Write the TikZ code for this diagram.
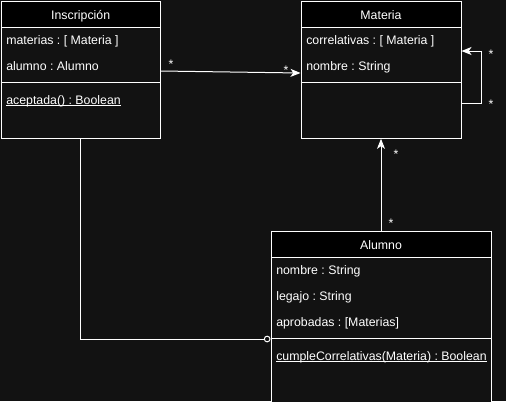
\documentclass[tikz,border=0pt]{standalone}
\usepackage{fontspec}
\setmainfont{Liberation Sans}
\usetikzlibrary{arrows.meta}
\definecolor{bgc}{HTML}{121212}
\newcommand{\ulin}[1]{\setbox0\hbox{#1}\rlap{\rule[-1.3pt]{\wd0}{0.6pt}}\box0}
\tikzset{
  classbox/.style 2 args={draw=white, fill=bgc, line width=0.75pt, anchor=north west,
    inner sep=0pt, minimum width=#1, minimum height=#2},
  classhead/.style={draw=white, fill=black, line width=0.75pt, anchor=north west,
    inner sep=0pt, minimum width=#1, minimum height=19.5pt, text height=7.5pt, text depth=0pt},
  attr/.style={anchor=base west, inner sep=0pt},
  mult/.style={inner sep=0pt},
  assoc/.style={draw=white, line width=0.75pt, -{Stealth[length=7.5pt, width=6pt, inset=2pt]}},
}
\begin{document}
\frenchspacing
\begin{tikzpicture}[x=0.75pt, y=-0.75pt, every node/.style={text=white, font=\fontsize{9.25}{11}\selectfont}]
  \useasboundingbox[fill=bgc] (0,0) rectangle (506,401);

  % Inscripcion
  \node[classbox={119.5pt}{103pt}] (ins) at (0.5,0.5) {};
  \node[classhead=119.5pt] (insh) at (0.5,0.5) {Inscripción};
  \node[attr] (ins1) at (6,44.5) {materias : [ Materia ]};
  \node[attr] (ins2) at (6,70.5) {alumno : Alumno};
  \draw[white, line width=0.75pt] (ins.west |- 0,82) -- (ins.east |- 0,82);
  \node[attr] (ins3) at (6,104) {\ulin{aceptada() : Boolean}};

  % Materia
  \node[classbox={120pt}{103pt}] (mat) at (300.5,0.5) {};
  \node[classhead=120pt] (math) at (300.5,0.5) {Materia};
  \node[attr] (mat1) at (306,44.5) {correlativas : [ Materia ]};
  \node[attr] (mat2) at (306,70.5) {nombre : String};
  \draw[white, line width=0.75pt] (mat.west |- 0,82) -- (mat.east |- 0,82);

  % Alumno
  \node[classbox={165pt}{135pt}] (alu) at (270.5,230.5) {};
  \node[classhead=165pt] (aluh) at (270.5,230.5) {Alumno};
  \foreach \t [count=\i] in {nombre : String, legajo : String, aprobadas : [Materias]} {
    \node[attr] (alu\i) at (276, 248+26*\i) {\t};
  }
  \draw[white, line width=0.75pt] (alu.west |- 0,338.5) -- (alu.east |- 0,338.5);
  \node[attr] (alu4) at (276,360) {\ulin{cumpleCorrelativas(Materia) : Boolean}};

  % Associations
  \draw[assoc] (ins.east |- 0,71) -- (mat.west |- 0,73);
  \node[mult] (m1) at (171,64) {*};
  \node[mult] (m2) at (286,70) {*};

  \draw[assoc] (mat.east |- 0,103) -- ++(20,0) |- (mat.east |- 0,51);
  \node[mult] (m3) at (491,54) {*};
  \node[mult] (m4) at (491,104) {*};

  \draw[assoc] (alu.north) -- (mat.south);
  \node[mult] (m5) at (396,154) {*};
  \node[mult] (m6) at (391,223) {*};

  \draw[white, line width=0.75pt, -{Circle[open, length=5pt]}] (ins.south) |- (alu.west |- 0,339);
\end{tikzpicture}
\end{document}
